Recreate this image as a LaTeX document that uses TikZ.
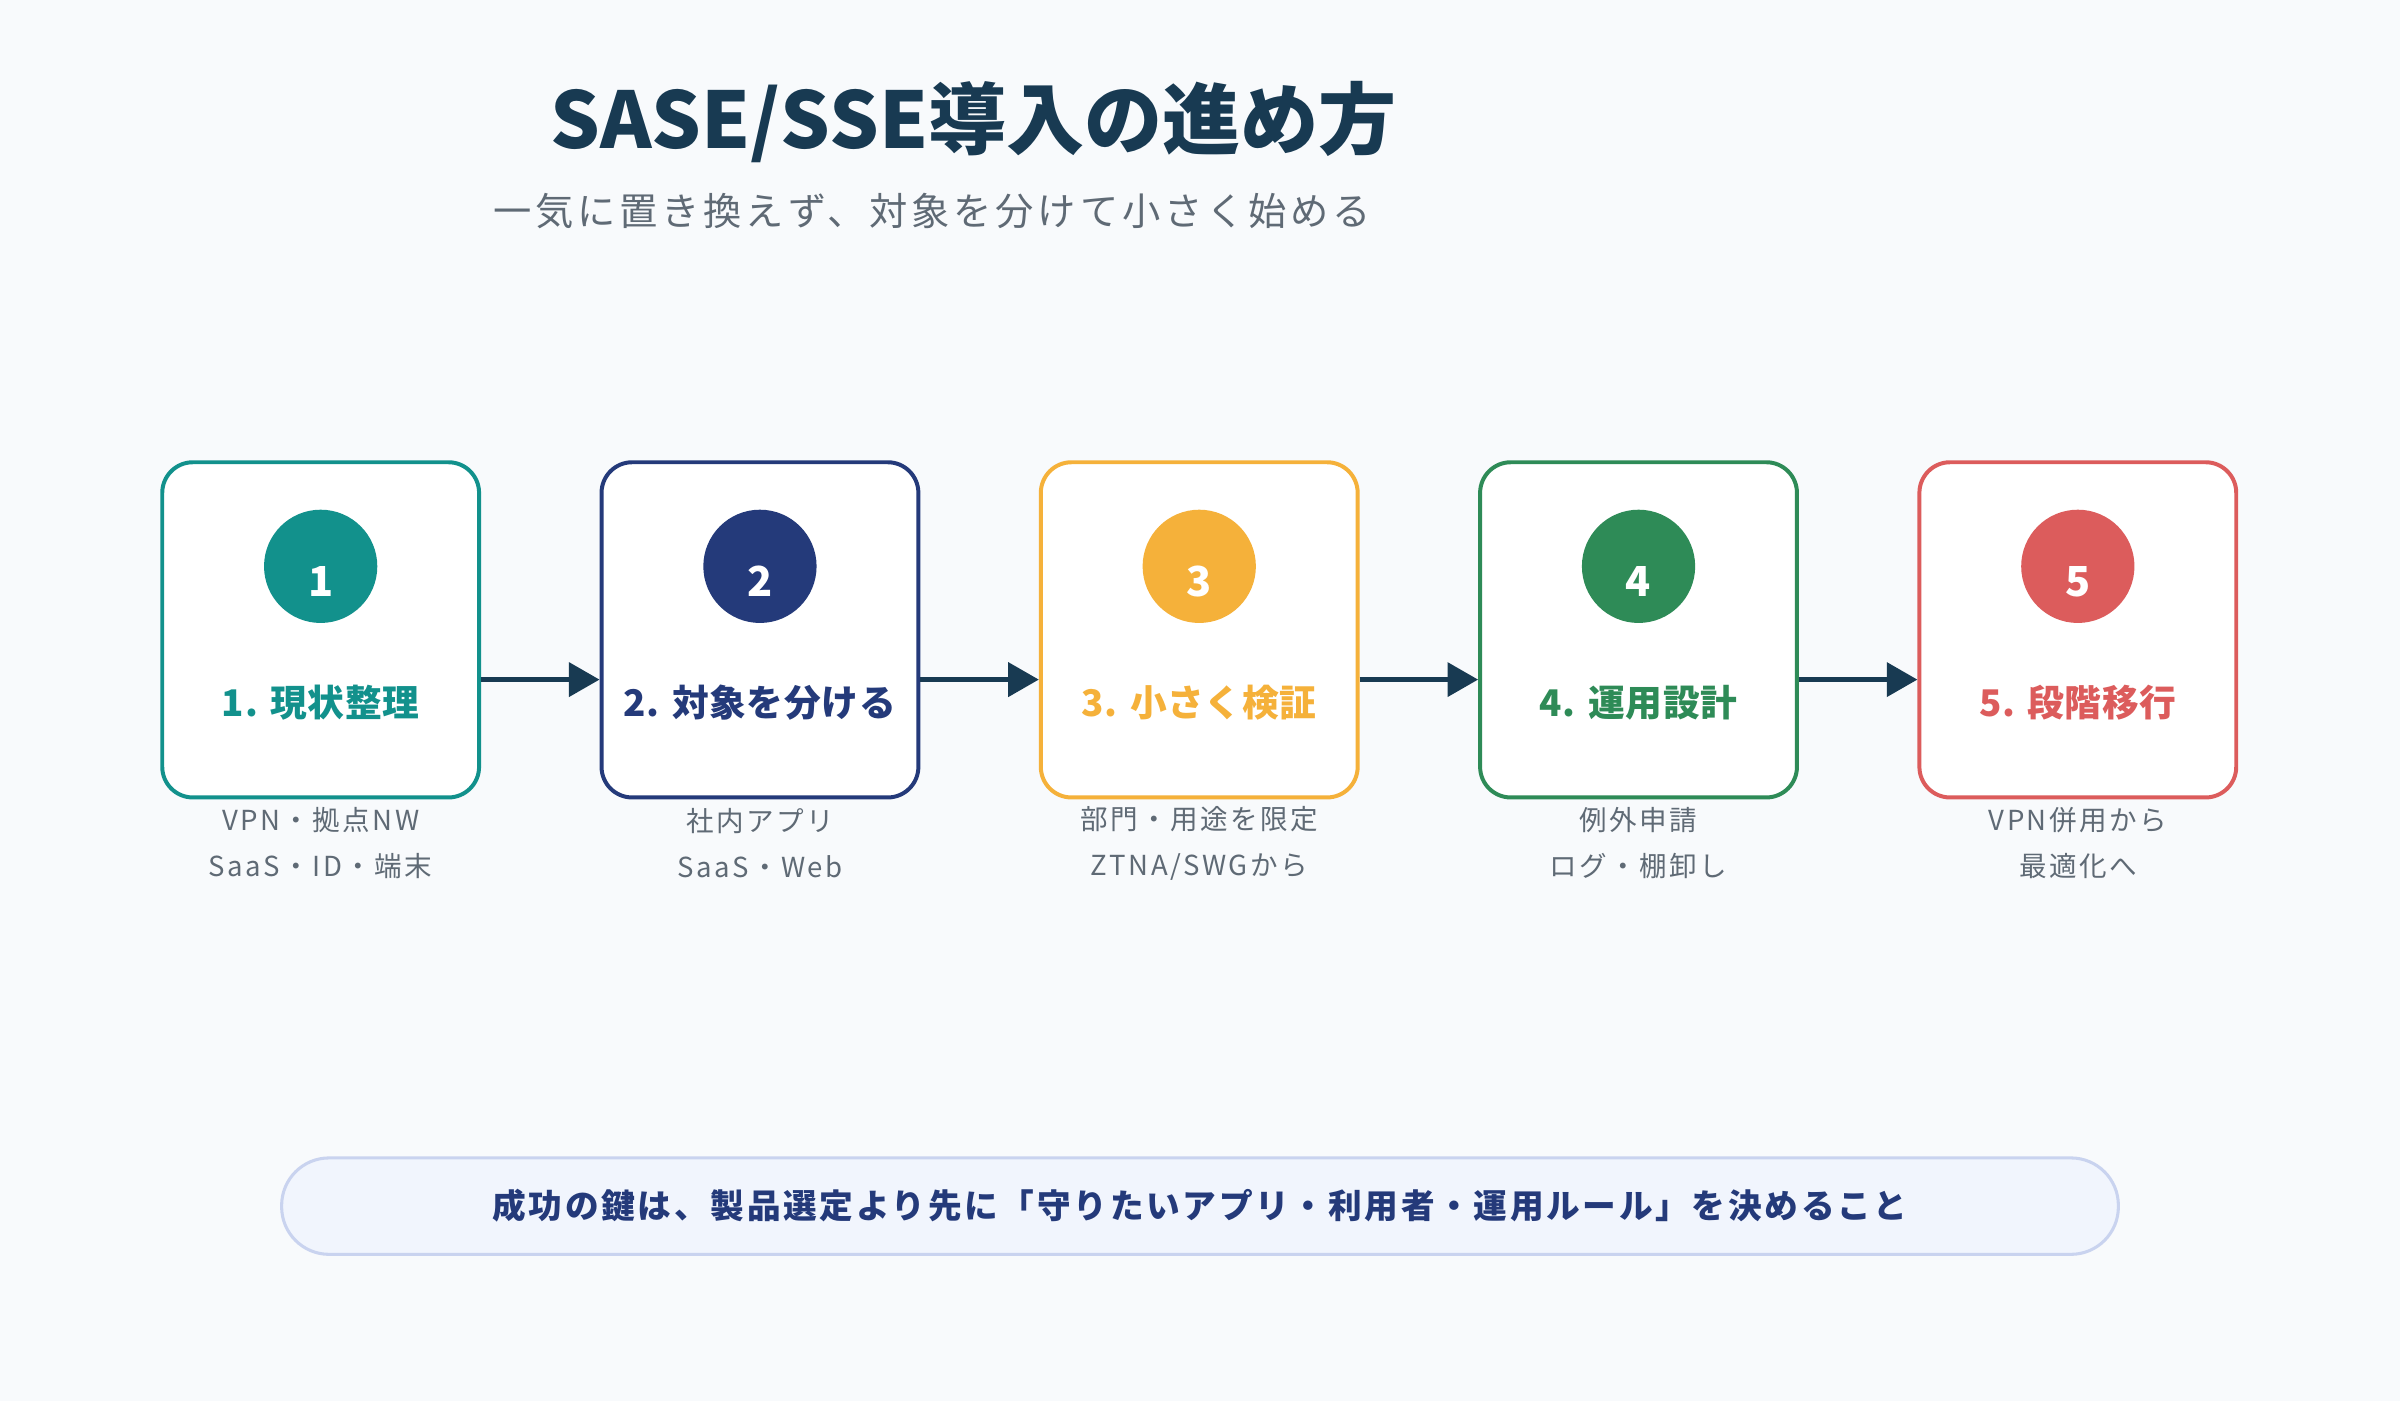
\documentclass[tikz,border=0pt]{standalone}
\usepackage{fontspec}
\setmainfont{Noto Sans CJK JP}
\usetikzlibrary{arrows.meta}
\definecolor{bg}{HTML}{F8FAFC}
\definecolor{dark}{HTML}{183A52}
\definecolor{gray}{HTML}{5F6A75}
\definecolor{c1}{HTML}{12918C}
\definecolor{c2}{HTML}{243A7A}
\definecolor{c3}{HTML}{F5B13A}
\definecolor{c4}{HTML}{2E8B57}
\definecolor{c5}{HTML}{DC5C5C}
\definecolor{pillfill}{HTML}{F1F5FD}
\definecolor{pillline}{HTML}{C9D3EF}
\tikzset{
 box/.style={draw=#1,line width=2.6pt,fill=white,rounded corners=20pt,minimum width=207pt,minimum height=219pt,inner sep=0},
 num/.style={circle,fill=#1,minimum size=74pt,inner sep=0,text=white,font=\fontsize{27}{30}\selectfont\bfseries},
 lab/.style={text=#1,font=\fontsize{24}{28}\selectfont\bfseries\addfontfeature{LetterSpace=2}},
 sub/.style={text=gray,font=\fontsize{18}{30}\selectfont\addfontfeature{LetterSpace=9},align=center},
 arr/.style={line width=3.2pt,draw=dark,-{Triangle[length=20pt,width=22pt]}}
}
\begin{document}
\begin{tikzpicture}[x=1pt,y=-1pt]
\path[fill=bg] (0,0) rectangle (1568,915);
\useasboundingbox (0,0) rectangle (1568,915);
\node[text=dark,font=\fontsize{51}{58}\selectfont\bfseries] (title) at (636,80) {SASE/SSE導入の進め方};
\node[text=gray,font=\fontsize{25}{30}\selectfont\addfontfeature{LetterSpace=10}] (subt) at (609,138) {一気に置き換えず、対象を分けて小さく始める};
\foreach \i/\c/\t/\a/\b in {1/c1/{1. 現状整理}/{VPN・拠点NW}/{SaaS・ID・端末},2/c2/{2. 対象を分ける}/{社内アプリ}/{SaaS・Web},3/c3/{3. 小さく検証}/{部門・用途を限定}/{ZTNA/SWGから},4/c4/{4. 運用設計}/{例外申請}/{ログ・棚卸し},5/c5/{5. 段階移行}/{VPN併用から}/{最適化へ}}{
 \pgfmathsetmacro\x{209.5+287*(\i-1)}
 \node[box=\c] (b\i) at (\x,411.5) {};
 \node[num=\c] (n\i) at (\x,370) {};
 \node[text=white,font=\fontsize{27}{30}\selectfont\bfseries] (t\i) at (\x,380) {\i};
 \node[lab=\c] (l\i) at (\x,459) {\t};
 \node[sub] (s\i) at (\x,551) {\a\\\b};
}
\foreach \i/\j in {1/2,2/3,3/4,4/5}{ \draw[arr] (b\i.east|-0,444) -- (b\j.west|-0,444); }
\node[draw=pillline,line width=2pt,fill=pillfill,rounded corners=31pt,minimum width=1200pt,minimum height=63pt,text=c2,font=\fontsize{22}{26}\selectfont\bfseries\addfontfeature{LetterSpace=8}] (pill) at (784,788) {成功の鍵は、製品選定より先に「守りたいアプリ・利用者・運用ルール」を決めること};
\end{tikzpicture}
\end{document}
